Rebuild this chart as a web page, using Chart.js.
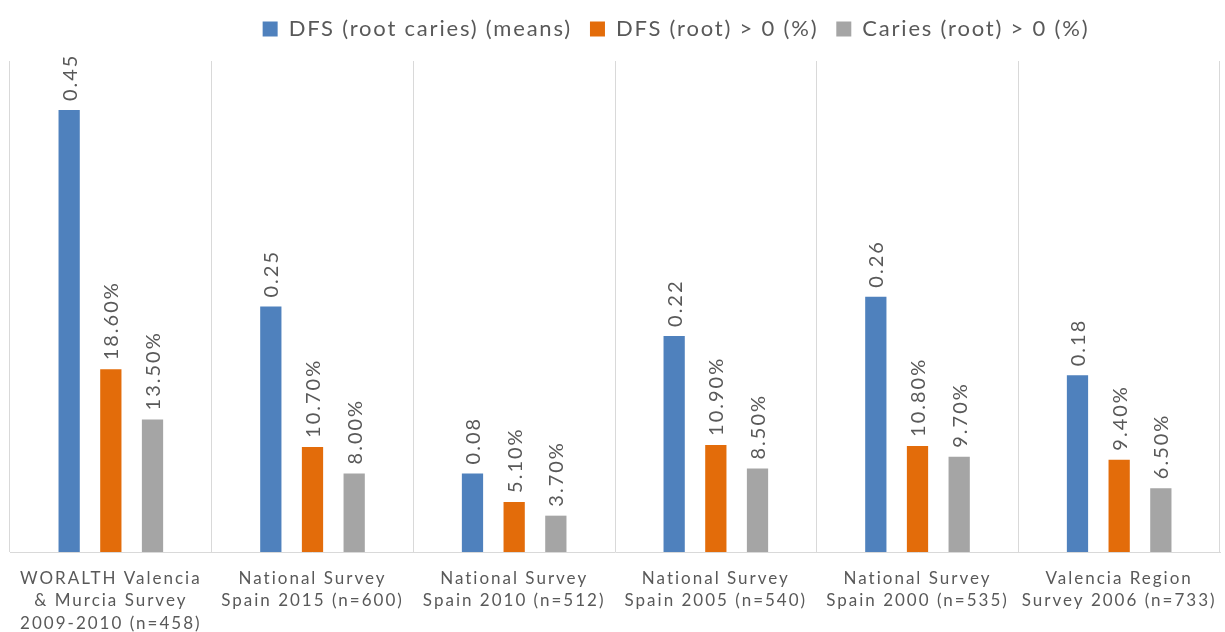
<!DOCTYPE html>
<html>
<head>
<meta charset="utf-8">
<script src="https://cdn.jsdelivr.net/npm/chart.js@4/dist/chart.umd.min.js"></script>
<style>
  html, body { margin: 0; padding: 0; background: #ffffff; }
  #wrap { width: 1225px; height: 632px; position: relative; }
</style>
</head>
<body>
<div id="wrap"><canvas id="c"></canvas></div>
<script>
const categories = [
  ["WORALTH Valencia", "& Murcia Survey", "2009-2010 (n=458)"],
  ["National Survey", "Spain 2015 (n=600)"],
  ["National Survey", "Spain 2010 (n=512)"],
  ["National Survey", "Spain 2005 (n=540)"],
  ["National Survey", "Spain 2000 (n=535)"],
  ["Valencia Region", "Survey 2006 (n=733)"]
];
const seriesNames = ["DFS (root caries) (means)", "DFS (root) > 0 (%)", "Caries (root) > 0 (%)"];
const dfsMeans = [0.45, 0.25, 0.08, 0.22, 0.26, 0.18];
const dfsRootPct = [0.186, 0.107, 0.051, 0.109, 0.108, 0.094];
const cariesRootPct = [0.135, 0.080, 0.037, 0.085, 0.097, 0.065];
const seriesColors = ["#4F81BD", "#E36C0A", "#A5A5A5"];
const labelKinds = ["mean", "pct", "pct"];

const textColor = "#595959";
const fontFamily = "Lato, 'Open Sans', sans-serif";

function fmt(v, kind) {
  return kind === "mean" ? v.toFixed(2) : (v * 100).toFixed(2) + "%";
}

function withSpacing(fn, spacing) {
  return function () {
    const ctx = this.ctx;
    ctx.save();
    ctx.letterSpacing = spacing;
    const r = fn.apply(this, arguments);
    ctx.restore();
    return r;
  };
}

const layoutTweaks = {
  id: "layoutTweaks",
  beforeInit(chart) {
    const lg = chart.legend;
    if (lg && !lg._wrapped) {
      const origFit = lg.fit;
      lg.fit = withSpacing(function () { origFit.call(this); this.height += 11; }, "1.8px");
      lg.draw = withSpacing(lg.draw, "1.8px");
      lg._wrapped = true;
    }
  },
  afterLayout(chart) {
    const lg = chart.legend;
    if (lg) { lg.left += 122; }
    const sx = chart.scales.x;
    if (sx && !sx._wrappedLabels) {
      sx.drawLabels = withSpacing(sx.drawLabels, "2px");
      sx._wrappedLabels = true;
    }
  }
};

const barLabels = {
  id: "barLabels",
  afterDatasetsDraw(chart) {
    const ctx = chart.ctx;
    chart.data.datasets.forEach((ds, di) => {
      const meta = chart.getDatasetMeta(di);
      meta.data.forEach((bar, i) => {
        const txt = fmt(ds.data[i], labelKinds[di]);
        ctx.save();
        ctx.translate(bar.x + 1, bar.y - 9);
        ctx.rotate(-Math.PI / 2);
        ctx.font = "20px " + fontFamily;
        ctx.letterSpacing = "2px";
        ctx.fillStyle = textColor;
        ctx.textAlign = "left";
        ctx.textBaseline = "middle";
        ctx.fillText(txt, 0, 0);
        ctx.restore();
      });
    });
  }
};

const datasets = [dfsMeans, dfsRootPct, cariesRootPct].map((d, i) => ({
  label: seriesNames[i],
  data: d,
  backgroundColor: seriesColors[i],
  borderWidth: 0,
  categoryPercentage: 0.62,
  barPercentage: 0.51
}));

new Chart(document.getElementById("c"), {
  type: "bar",
  data: { labels: categories, datasets: datasets },
  options: {
    responsive: true,
    maintainAspectRatio: false,
    animation: false,
    layout: { padding: { top: 0, left: 10, right: 5, bottom: 0 } },
    plugins: {
      tooltip: { enabled: false },
      legend: {
        position: "top",
        align: "center",
        labels: {
          color: textColor,
          font: { family: fontFamily, size: 22 },
          boxWidth: 15,
          boxHeight: 15,
          padding: 18
        }
      }
    },
    scales: {
      x: {
        grid: { display: true, offset: true, color: "#D9D9D9", lineWidth: 1, drawTicks: false },
        border: { display: true, color: "#D9D9D9" },
        ticks: {
          color: textColor,
          font: { family: fontFamily, size: 17, lineHeight: 1.32 },
          padding: 15,
          maxRotation: 0,
          autoSkip: false
        },
        afterFit(scale) { scale.height = 80; }
      },
      y: {
        display: false,
        min: 0,
        max: 0.5
      }
    }
  },
  plugins: [layoutTweaks, barLabels]
});
</script>
</body>
</html>
